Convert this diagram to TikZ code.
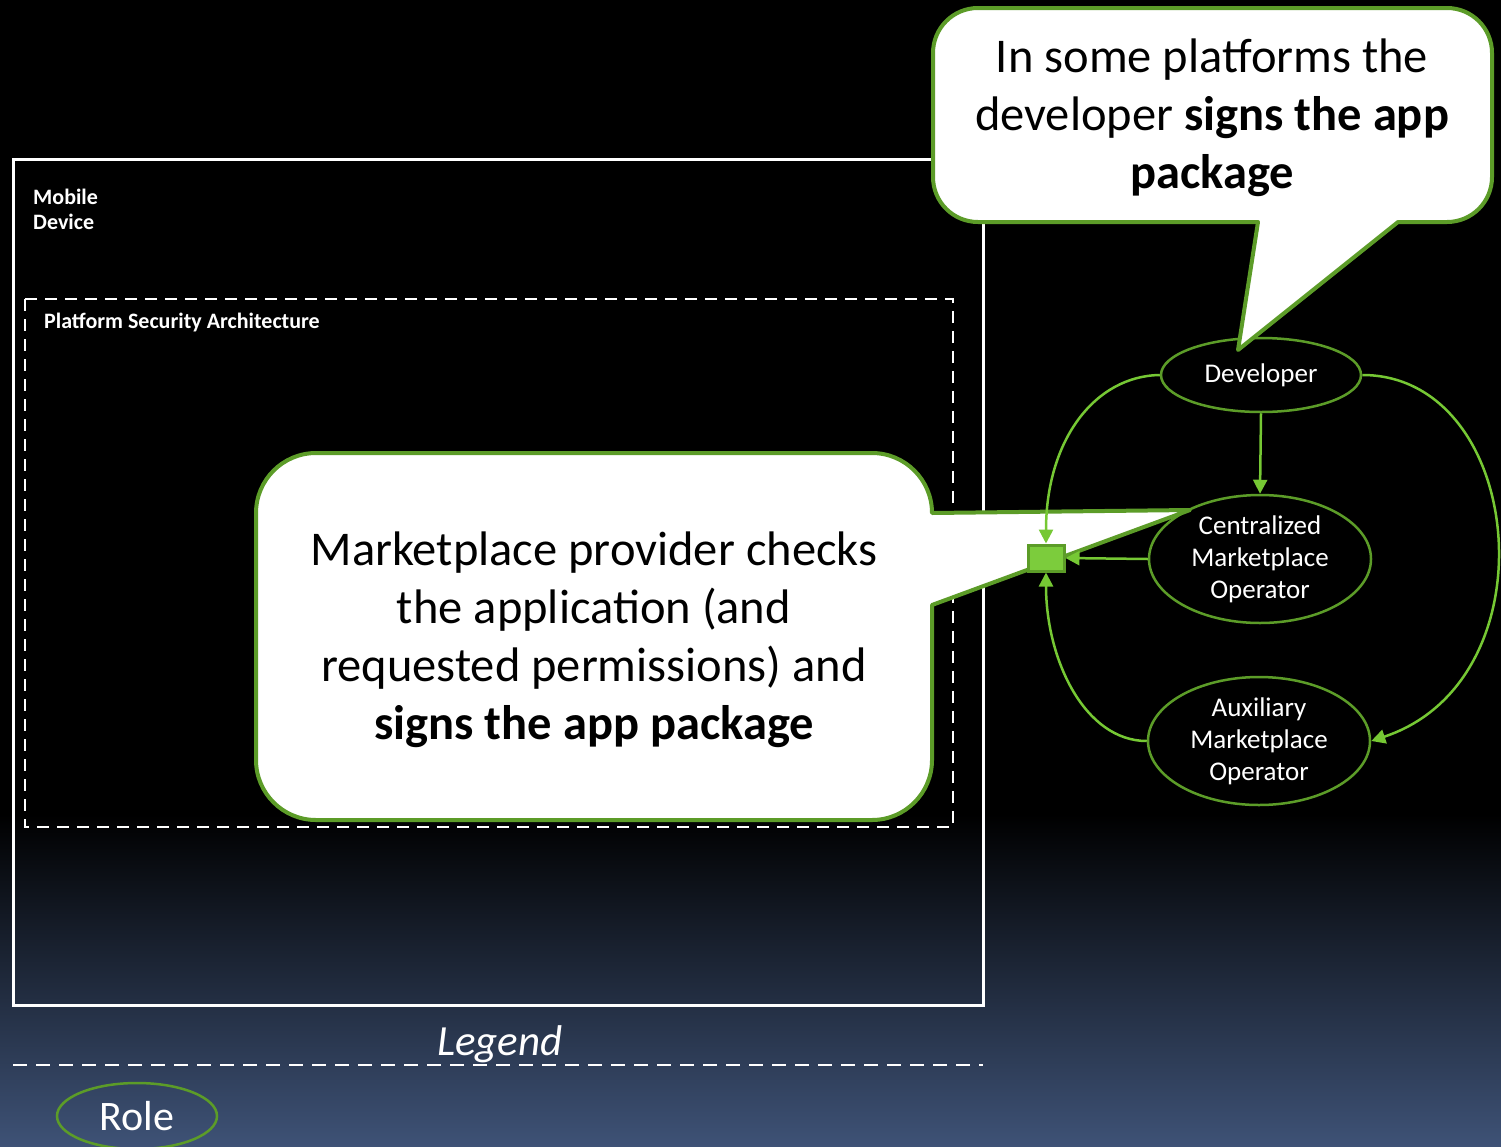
\documentclass[tikz,border=0pt]{standalone}
\usepackage{fontspec}
\setmainfont{Carlito}
\usetikzlibrary{arrows.meta,shapes.geometric}
\definecolor{edgegreen}{RGB}{118,200,52}
\definecolor{rimgreen}{RGB}{92,156,40}
\definecolor{boxfill}{RGB}{124,204,60}
\definecolor{bgbottom}{RGB}{62,82,118}
\begin{document}
\begin{tikzpicture}[x=1pt,y=-1pt,
  rolenode/.style={ellipse, draw=rimgreen, line width=2.5pt, fill=black, text=white,
    font=\fontsize{27}{32}\selectfont, align=center, inner sep=0pt},
  edge/.style={draw=edgegreen, line width=2.5pt, -{Triangle[length=14pt,width=14pt]}},
  callout/.style={draw=rimgreen, line width=4pt, fill=white, line join=round},
  calltext/.style={text=black, align=center, inner sep=0pt},
  boxlabel/.style={text=white, font=\fontsize{22}{25}\selectfont\bfseries, align=left, inner sep=0pt, anchor=north west},
  whitedash/.style={draw=white, line width=2.5pt, dash pattern=on 12pt off 8pt}
]
% canvas and background
\useasboundingbox (0,0) rectangle (1501,1146);
\fill[black] (0,0) rectangle (1501,815);
\shade[top color=black, bottom color=bgbottom] (0,814) rectangle (1501,1146);

% mobile device and platform security architecture boxes
\draw[white, line width=3pt] (13,159) rectangle (983,1005);
\node[boxlabel] (mobile) at (33,189) {Mobile\\Device};
\draw[whitedash] (25,299) rectangle (953,827);
\node[boxlabel] (psa) at (44,313) {Platform Security Architecture};

% legend
\node[text=white, font=\fontsize{43}{50}\selectfont\itshape, anchor=base, inner sep=0pt] (legend) at (500,1055) {Legend};
\draw[draw=white, line width=2pt, dash pattern=on 14pt off 9pt] (13,1065) -- (983,1065);
\node[rolenode, fill=none, minimum width=160pt, minimum height=66pt, font=\fontsize{42}{48}\selectfont] (role) at (137,1116) {Role};

% roles
\node[rolenode, minimum width=200pt, minimum height=74pt] (dev) at (1261,375) {Developer};
\node[rolenode, minimum width=222pt, minimum height=128pt] (cmo) at (1260,559) {Centralized\\Marketplace\\Operator};
\node[rolenode, minimum width=222pt, minimum height=128pt] (amo) at (1259,741) {Auxiliary\\Marketplace\\Operator};

% callout: developer signing
\draw[callout] (978,8) -- (1447,8) .. controls (1471.9,8) and (1492,28.1) .. (1492,53)
  -- (1492,177) .. controls (1492,201.9) and (1471.9,222) .. (1447,222)
  -- (1398,222) -- (1238,350) -- (1258,222)
  -- (978,222) .. controls (953.1,222) and (933,201.9) .. (933,177)
  -- (933,53) .. controls (933,28.1) and (953.1,8) .. (978,8) -- cycle;
\node[calltext, font=\fontsize{48.5}{58}\selectfont] (devnote) at (1212,118)
  {In some platforms the\\developer \textbf{signs the app}\\\textbf{package}};

% callout: marketplace signing
\draw[callout] (316,453) -- (872,453) .. controls (905.1,453) and (932,479.9) .. (932,513)
  -- (1190,510) -- (932,605)
  -- (932,760) .. controls (932,793.1) and (905.1,820) .. (872,820)
  -- (316,820) .. controls (282.9,820) and (256,793.1) .. (256,760)
  -- (256,513) .. controls (256,479.9) and (282.9,453) .. (316,453) -- cycle;
\node[calltext, font=\fontsize{48.5}{58}\selectfont] (mktnote) at (594,640)
  {Marketplace provider checks\\the application (and\\requested permissions) and\\\textbf{signs the app package}};

% signed package and flows
\node[draw=rimgreen, fill=boxfill, line width=3pt, minimum width=36pt, minimum height=26pt, inner sep=0pt] (pkg) at (1046,558) {};
\draw[edge] (dev.south) -- (cmo.north);
\draw[edge] (cmo.west) -- (pkg.east);
\draw[edge] (dev.west) .. controls (1095,376) and (1046,440) .. (pkg.north);
\draw[edge] (amo.west) .. controls (1085,741) and (1046,660) .. (pkg.south);
\draw[edge] (dev.east) .. controls (1525,375) and (1555,680) .. (amo.east);
\end{tikzpicture}
\end{document}
